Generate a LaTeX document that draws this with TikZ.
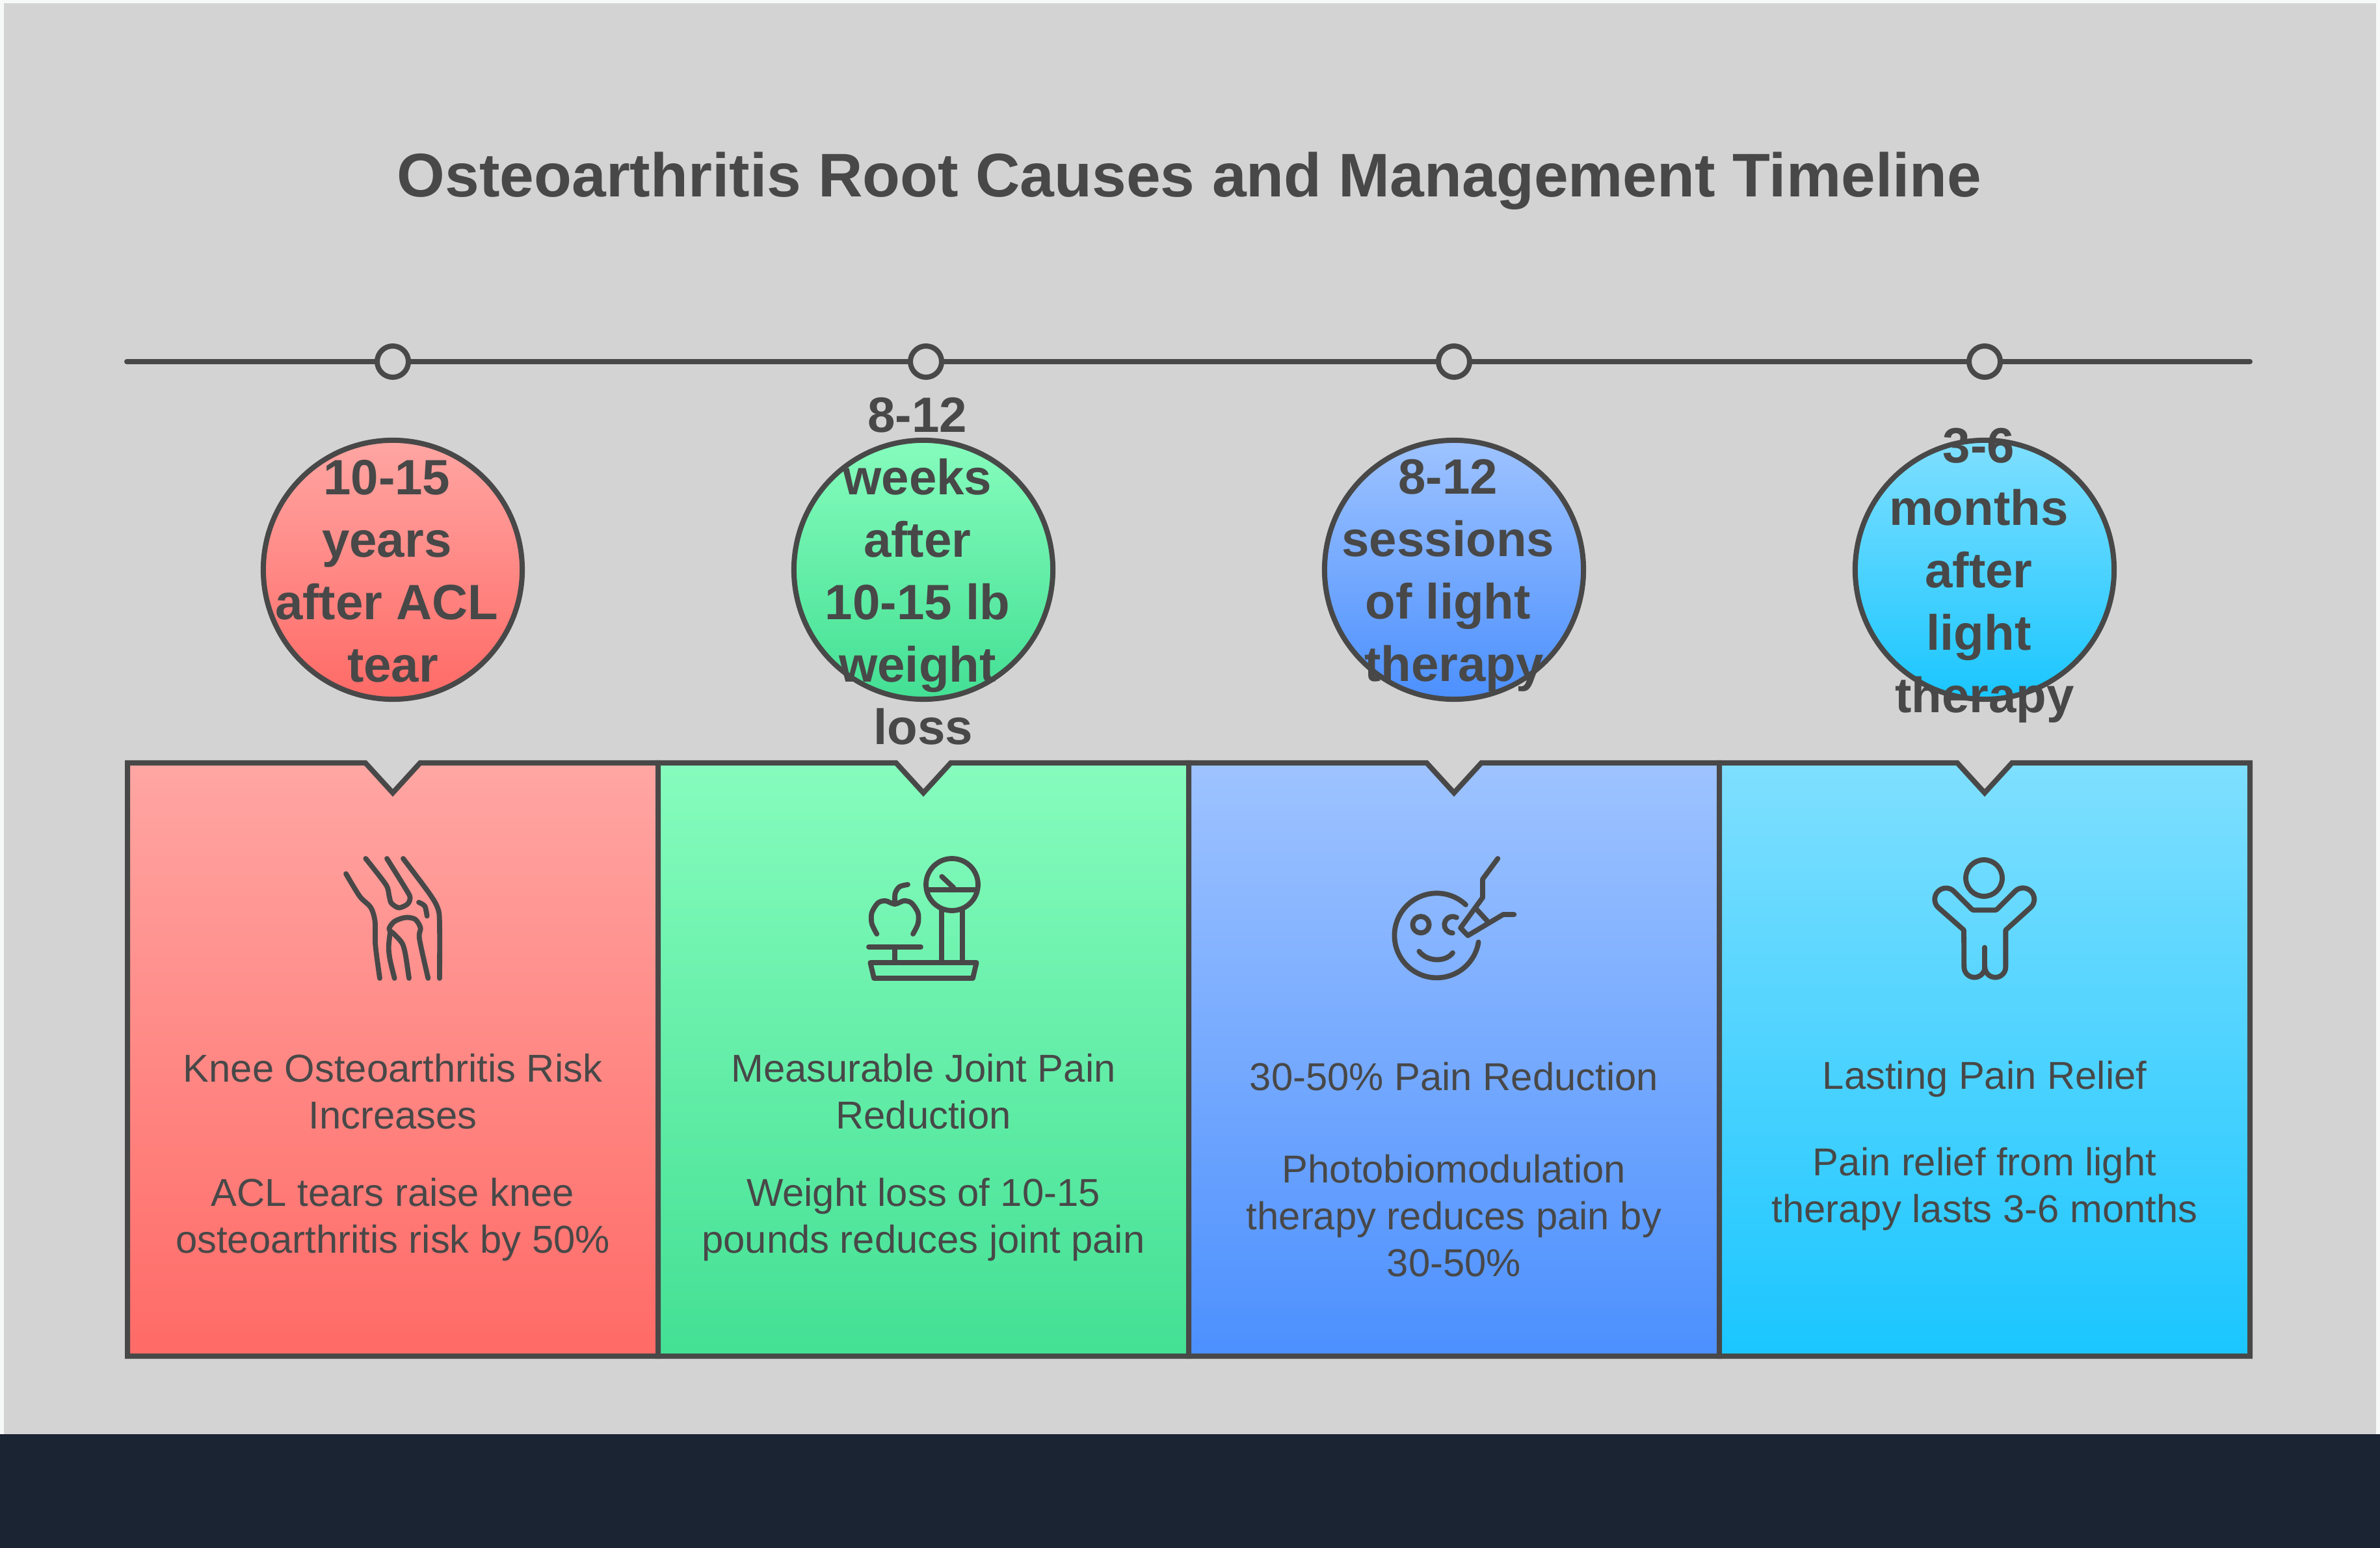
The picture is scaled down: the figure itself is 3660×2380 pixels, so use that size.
\documentclass[tikz,border=0pt]{standalone}
\usepackage{fontspec}
\setmainfont{Liberation Sans}
\definecolor{inkgrey}{HTML}{484848}
\definecolor{pagegrey}{HTML}{D3D3D3}
\definecolor{edgewhite}{HTML}{F7F9F9}
\definecolor{footdark}{HTML}{1A2433}
\definecolor{redtop}{HTML}{FFA6A3}
\definecolor{redbot}{HTML}{FF6A66}
\definecolor{greentop}{HTML}{86FCBD}
\definecolor{greenbot}{HTML}{43E094}
\definecolor{bluetop}{HTML}{9EC3FF}
\definecolor{bluebot}{HTML}{4C90FE}
\definecolor{cyantop}{HTML}{7FDFFF}
\definecolor{cyanbot}{HTML}{1AC6FF}
\newcommand{\gap}{\kern 0.24em}
\tikzset{
  inkline/.style={draw=inkgrey,line width=0.8mm},
  dot/.style={circle,inkline,fill=pagegrey,minimum size=1.92cm/4,inner sep=0pt},
  badge/.style={circle,inkline,minimum size=3.98cm,inner sep=0pt},
  badgetext/.style={text=inkgrey,align=center,inner sep=0pt,font=\fontsize{21.7}{27.3}\selectfont\bfseries},
  headtext/.style={text=inkgrey,align=center,inner sep=0pt,font=\fontsize{17}{20.5}\selectfont},
  icon/.style={x=0.01cm/3,y=-0.01cm/3,draw=inkgrey,line width=0.78mm,line cap=round,line join=round}
}
\begin{document}
\begin{tikzpicture}[x=0.01cm,y=-0.01cm]
  \useasboundingbox (0,0) rectangle (3660,2380);
  \fill[edgewhite] (0,0) rectangle (3660,2380);
  \fill[pagegrey] (6,5) rectangle (3654,2205);
  \fill[footdark] (0,2205) rectangle (3660,2380);
  \node[text=inkgrey,inner sep=0pt,font=\fontsize{26.95}{32}\selectfont\bfseries] (title) at (1829,278) {Osteoarthritis Root Causes and Management Timeline};
  \coordinate (linestart) at (195,556);
  \coordinate (lineend) at (3460,556);
  \draw[inkline,line cap=round] (linestart) -- (lineend);
  \node[dot] (d1) at (604,556) {};
  \node[dot] (d2) at (1424,556) {};
  \node[dot] (d3) at (2236,556) {};
  \node[dot] (d4) at (3052,556) {};
  \node[badge,top color=redtop,bottom color=redbot] (b1) at (604,876) {};
  \node[badge,top color=greentop,bottom color=greenbot] (b2) at (1420,876) {};
  \node[badge,top color=bluetop,bottom color=bluebot] (b3) at (2236,876) {};
  \node[badge,top color=cyantop,bottom color=cyanbot] (b4) at (3052,876) {};
  \node[badgetext] (t1) at (604,878) {10-15\gap\\years\gap\\after ACL\gap\\tear};
  \node[badgetext] (t2) at (1420,878) {8-12\gap\\weeks\gap\\after\gap\\10-15 lb\gap\\weight\gap\\loss};
  \node[badgetext] (t3) at (2236,885) {8-12\gap\\sessions\gap\\of light\gap\\therapy};
  \node[badgetext] (t4) at (3052,885) {3-6\gap\\months\gap\\after\gap\\light\gap\\therapy};
  \draw[inkline,top color=redtop,bottom color=redbot] (196,1173) -- (562,1173) -- (604,1219) -- (646,1173) -- (1012,1173) -- (1012,2085) -- (196,2085) -- cycle;
  \draw[inkline,top color=greentop,bottom color=greenbot] (1012,1173) -- (1378,1173) -- (1420,1219) -- (1462,1173) -- (1828,1173) -- (1828,2085) -- (1012,2085) -- cycle;
  \draw[inkline,top color=bluetop,bottom color=bluebot] (1828,1173) -- (2194,1173) -- (2236,1219) -- (2278,1173) -- (2644,1173) -- (2644,2085) -- (1828,2085) -- cycle;
  \draw[inkline,top color=cyantop,bottom color=cyanbot] (2644,1173) -- (3010,1173) -- (3052,1219) -- (3094,1173) -- (3460,1173) -- (3460,2085) -- (2644,2085) -- cycle;
  \begin{scope}[shift={(460,1280)},icon]
    \draw plot[smooth] coordinates {(216,190) (280,295) (330,345) (350,410) (352,520) (372,672)};
    \draw plot[smooth] coordinates {(307,120) (400,240) (415,290) (425,325) (460,347) (500,330) (512,300) (495,265) (405,120)};
    \draw plot[smooth] coordinates {(480,120) (600,280) (640,350) (648,420) (648,672)};
    \draw plot[smooth] coordinates {(552,322) (580,340) (590,385)};
    \draw plot[smooth] coordinates {(595,672) (555,490) (560,440) (535,400) (490,392) (440,410) (415,445) (440,470) (475,510) (490,560) (507,672)};
    \draw plot[smooth] coordinates {(420,460) (413,530) (420,590) (440,672)};
  \end{scope}
  \begin{scope}[shift={(1250,1280)},icon]
    \draw (642,240) circle[radius=120];
    \draw (535,265) -- (750,265);
    \draw (595,203) -- (650,255);
    \draw (594,360) -- (594,600);
    \draw (690,360) -- (690,600);
    \draw (265,600) -- (755,600) -- (738,672) -- (282,672) -- cycle;
    \draw (258,527) -- (498,527);
    \draw (378,527) -- (378,600);
    \draw plot[smooth] coordinates {(295,468) (272,420) (272,370) (300,325) (335,315) (378,330) (420,315) (455,325) (485,370) (485,420) (462,468)};
    \draw plot[smooth] coordinates {(378,330) (380,280) (400,250) (438,240)};
  \end{scope}
  \begin{scope}[shift={(2080,1280)},icon]
    \draw (522,333) arc[start angle=-46.7,end angle=-351,radius=195];
    \draw (315,425) circle[radius=38];
    \draw (480,392) arc[start angle=-61,end angle=-270,radius=38];
    \draw (307,548) .. controls (345,598) and (430,598) .. (462,555);
    \draw (670,120) -- (600,215) -- (600,300) -- (498,440) -- (532,475) -- (695,378) -- (745,378);
    \draw (568,350) -- (628,415);
  \end{scope}
  \begin{scope}[shift={(2900,1280)},icon]
    \draw (453,210) circle[radius=84];
    \draw (360,450) -- (241,345) arc[start angle=135,end angle=315,radius=52] -- (385,342) .. controls (400,358) .. (415,358) -- (495,358) .. controls (510,358) .. (525,342) -- (596,271) arc[start angle=225,end angle=405,radius=52] -- (553,450) -- (553,620) arc[start angle=0,end angle=180,radius=48] arc[start angle=0,end angle=180,radius=48] -- cycle;
    \draw (456,530) -- (456,640);
  \end{scope}
  \node[headtext] (h1) at (604,1678) {Knee Osteoarthritis Risk\\Increases};
  \node[headtext] (s1) at (604,1875) {ACL tears raise knee\\osteoarthritis risk by 50\%};
  \node[headtext] (h2) at (1420,1678) {Measurable Joint Pain\\Reduction};
  \node[headtext] (s2) at (1420,1875) {Weight loss of 10-15\\pounds reduces joint pain};
  \node[headtext] (h3) at (2236,1655) {30-50\% Pain Reduction};
  \node[headtext] (s3) at (2236,1869) {Photobiomodulation\\therapy reduces pain by\\30-50\%};
  \node[headtext] (h4) at (3052,1659) {Lasting Pain Relief};
  \node[headtext] (s4) at (3052,1828) {Pain relief from light\\therapy lasts 3-6 months};
\end{tikzpicture}
\end{document}
